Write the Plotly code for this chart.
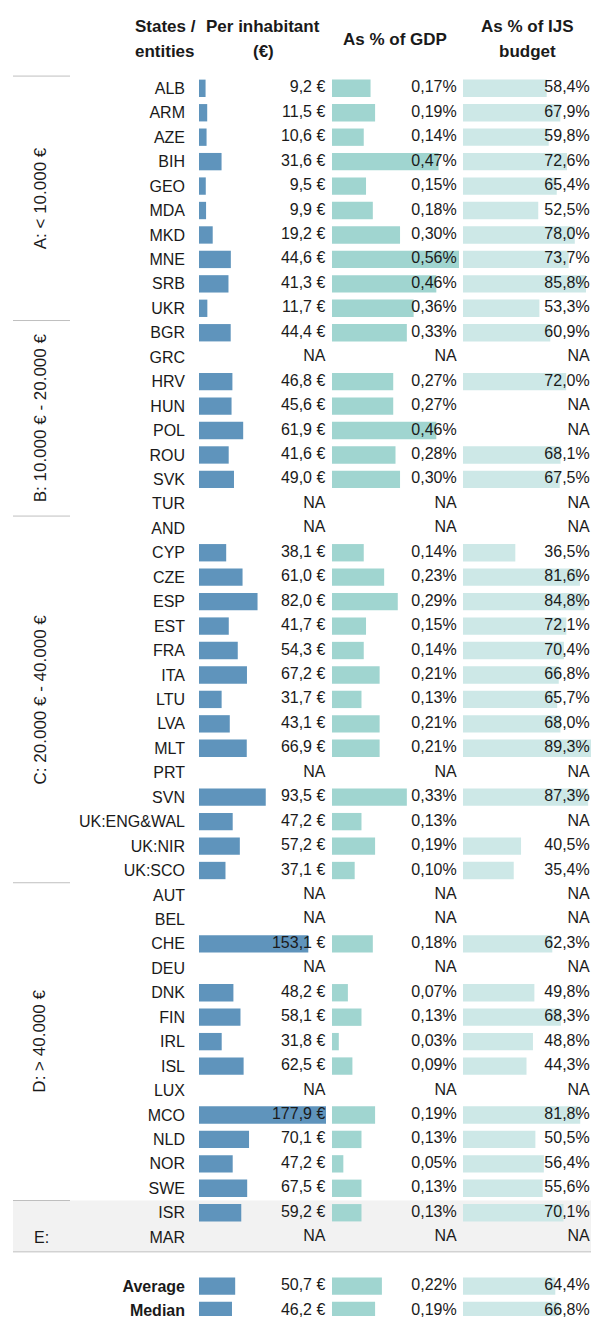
import plotly.graph_objects as go

# data (None = NA)
states = ["ALB", "ARM", "AZE", "BIH", "GEO", "MDA", "MKD", "MNE", "SRB", "UKR",
          "BGR", "GRC", "HRV", "HUN", "POL", "ROU", "SVK", "TUR",
          "AND", "CYP", "CZE", "ESP", "EST", "FRA", "ITA", "LTU", "LVA", "MLT", "PRT", "SVN",
          "UK:ENG&WAL", "UK:NIR", "UK:SCO",
          "AUT", "BEL", "CHE", "DEU", "DNK", "FIN", "IRL", "ISL", "LUX", "MCO", "NLD", "NOR", "SWE",
          "ISR", "MAR", " ", "Average", "Median"]

per_inhabitant = [9.2, 11.5, 10.6, 31.6, 9.5, 9.9, 19.2, 44.6, 41.3, 11.7,
                  44.4, None, 46.8, 45.6, 61.9, 41.6, 49.0, None,
                  None, 38.1, 61.0, 82.0, 41.7, 54.3, 67.2, 31.7, 43.1, 66.9, None, 93.5,
                  47.2, 57.2, 37.1,
                  None, None, 153.1, None, 48.2, 58.1, 31.8, 62.5, None, 177.9, 70.1, 47.2, 67.5,
                  59.2, None, None, 50.7, 46.2]

pct_gdp = [0.17, 0.19, 0.14, 0.47, 0.15, 0.18, 0.30, 0.56, 0.46, 0.36,
           0.33, None, 0.27, 0.27, 0.46, 0.28, 0.30, None,
           None, 0.14, 0.23, 0.29, 0.15, 0.14, 0.21, 0.13, 0.21, 0.21, None, 0.33,
           0.13, 0.19, 0.10,
           None, None, 0.18, None, 0.07, 0.13, 0.03, 0.09, None, 0.19, 0.13, 0.05, 0.13,
           0.13, None, None, 0.22, 0.19]

pct_ijs = [58.4, 67.9, 59.8, 72.6, 65.4, 52.5, 78.0, 73.7, 85.8, 53.3,
           60.9, None, 72.0, None, None, 68.1, 67.5, None,
           None, 36.5, 81.6, 84.8, 72.1, 70.4, 66.8, 65.7, 68.0, 89.3, None, 87.3,
           None, 40.5, 35.4,
           None, None, 62.3, None, 49.8, 68.3, 48.8, 44.3, None, 81.8, 50.5, 56.4, 55.6,
           70.1, None, None, 64.4, 66.8]

groups = ["A: < 10.000 €", "B: 10.000 € - 20.000 €", "C: 20.000 € - 40.000 €", "D: > 40.000 €", "E:"]
group_sizes = [10, 8, 15, 13, 2]

W, H = 591, 1319
FONT = "Liberation Sans, Arial, sans-serif"
TXT = "#1a1a1a"


def fmt(v, kind):
    if v is None:
        return "NA"
    if kind == "eur":
        return f"{v:.1f} €".replace(".", ",")
    if kind == "gdp":
        return f"{v:.2f}%".replace(".", ",")
    return f"{v:.1f}%".replace(".", ",")


def label(s):
    if s in ("Average", "Median"):
        return "<b>" + s + "</b>"
    return s


cols = [
    (per_inhabitant, "eur", "#5f94bc", [199, 326], 177.9, "x"),
    (pct_gdp, "gdp", "#a0d5d0", [332, 459], 0.56, "x2"),
    (pct_ijs, "ijs", "#cde8e7", [463, 591], 89.3, "x3"),
]

fig = go.Figure()
for vals, kind, color, dom, rmax, xa in cols:
    fig.add_trace(go.Bar(
        x=vals, y=states, orientation="h", xaxis=xa, yaxis="y",
        marker=dict(color=color, line=dict(width=0)), hoverinfo="skip",
        showlegend=False,
    ))
    texts = ["" if s == " " else fmt(v, kind) for s, v in zip(states, vals)]
    # value labels right-aligned at the right edge of each column
    rx = 0.55 if kind == "gdp" else (88.4 if kind == "ijs" else rmax * 0.995)
    fig.add_trace(go.Scatter(
        x=[rx] * len(states), y=states, mode="text", text=texts,
        textposition="middle left", xaxis=xa, yaxis="y",
        textfont=dict(family=FONT, size=16, color=TXT),
        hoverinfo="skip", showlegend=False, cliponaxis=False,
    ))

# ALB row centred at 88.5 px, 24.5 px per row
row_h = 24.5
top = -88.5 / row_h
bottom = (H - 88.5) / row_h

layout = dict(
    width=W, height=H, margin=dict(l=0, r=0, t=0, b=0),
    paper_bgcolor="white", plot_bgcolor="rgba(0,0,0,0)",
    bargap=0.29, showlegend=False,
    yaxis=dict(type="category", categoryorder="array", categoryarray=states,
               range=[bottom, top], domain=[0, 1], anchor="x",
               tickvals=states, ticktext=[label(s) for s in states],
               tickfont=dict(family=FONT, size=16, color=TXT),
               ticks="", ticklabelstandoff=13, showgrid=False, zeroline=False, showline=False),
)
for i, (vals, kind, color, dom, rmax, xa) in enumerate(cols):
    key = "xaxis" if i == 0 else f"xaxis{i + 1}"
    layout[key] = dict(domain=[dom[0] / W, dom[1] / W], range=[0, rmax], anchor="y",
                       visible=False, fixedrange=True)
fig.update_layout(**layout)

# group bands, separators and labels
shapes = [dict(type="rect", xref="paper", yref="y", x0=13 / W, x1=1, y0=45.5, y1=47.6,
               fillcolor="#f2f2f2", line=dict(width=0), layer="below")]
start = -0.5
for g, n in zip(groups, group_sizes):
    shapes.append(dict(type="line", xref="paper", yref="y", x0=13 / W, x1=70 / W,
                       y0=start, y1=start, line=dict(color="#bfbfbf", width=1)))
    if g == "E:":
        fig.add_annotation(x=41 / W, xref="paper", y=start + n - 0.5, yref="y", text=g,
                           xanchor="center", showarrow=False,
                           font=dict(family=FONT, size=16, color=TXT))
    else:
        fig.add_annotation(x=40 / W, xref="paper", y=start + n / 2, yref="y", text=g,
                           xanchor="center", yanchor="middle", textangle=-90, showarrow=False,
                           font=dict(family=FONT, size=17, color=TXT))
    start += n
shapes.append(dict(type="line", xref="paper", yref="y", x0=13 / W, x1=1, y0=start + 0.1, y1=start + 0.1,
                   line=dict(color="#bfbfbf", width=1)))
fig.update_layout(shapes=shapes)

# column headers (one annotation per line to match the looser line spacing)
headers = [(["States /", "entities"], 165), (["Per inhabitant", "(€)"], 263),
           (["As % of GDP"], 395), (["As % of IJS", "budget"], 527)]
for lines, xc in headers:
    ys = [40] if len(lines) == 1 else [27, 52]
    for text, yp in zip(lines, ys):
        fig.add_annotation(x=xc / W, xref="paper", y=1 - yp / H, yref="paper", text="<b>" + text + "</b>",
                           xanchor="center", yanchor="middle", showarrow=False,
                           font=dict(family=FONT, size=17, color=TXT))

fig.write_html("out.html", config={"displayModeBar": False},
               post_script="document.body.style.margin='0';")
